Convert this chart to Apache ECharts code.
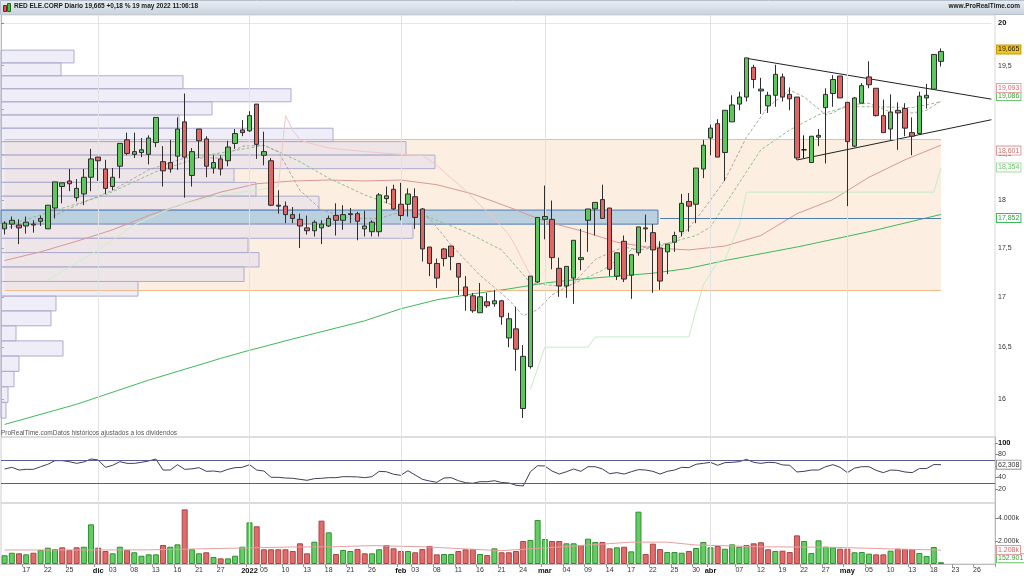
<!DOCTYPE html>
<html lang="es">
<head>
<meta charset="UTF-8">
<title>RED ELE.CORP Diario</title>
<script src="https://cdn.jsdelivr.net/npm/echarts@6/dist/echarts.min.js"></script>
<style>
    html,body{margin:0;padding:0;background:#fff;}
    #main{width:1024px;height:576px;}
</style>
</head>
<body>
<div id="main"></div>
<script>
    // sesiones que no vienen en el histórico
    var HOLIDAYS = ['2021-12-24', '2021-12-31', '2022-04-15', '2022-04-18'];
    var MONTH_NAMES = {'2021-12-01': 'dic', '2022-01-03': '2022', '2022-02-01': 'feb', '2022-03-01': 'mar', '2022-04-01': 'abr', '2022-05-02': 'may'};
    var LABEL_DAYS = ['2021-11-17', '2021-11-22', '2021-11-25', '2021-12-01', '2021-12-03', '2021-12-08', '2021-12-13', '2021-12-16',
        '2021-12-21', '2021-12-27', '2022-01-03', '2022-01-05', '2022-01-10', '2022-01-13', '2022-01-18', '2022-01-21', '2022-01-26',
        '2022-02-01', '2022-02-03', '2022-02-08', '2022-02-11', '2022-02-16', '2022-02-21', '2022-02-24', '2022-03-01', '2022-03-04',
        '2022-03-09', '2022-03-14', '2022-03-17', '2022-03-22', '2022-03-25', '2022-03-30', '2022-04-01', '2022-04-07', '2022-04-12',
        '2022-04-19', '2022-04-22', '2022-04-27', '2022-05-02', '2022-05-05', '2022-05-10', '2022-05-13', '2022-05-18', '2022-05-23', '2022-05-26'];

    // OHLC diario: [apertura, cierre, mínimo, máximo]
    var candles = [
        [17.70,17.76,17.64,17.78],[17.75,17.79,17.70,17.83],[17.74,17.71,17.54,17.80],[17.73,17.77,17.65,17.83],[17.75,17.74,17.66,17.79],
        [17.78,17.81,17.73,17.84],[17.70,17.95,17.70,17.95],[17.92,18.20,17.81,18.20],[18.15,18.19,17.97,18.19],[18.21,18.18,18.10,18.34],
        [18.03,18.13,17.99,18.23],[18.07,18.25,17.95,18.34],[18.25,18.45,18.10,18.56],[18.47,18.43,18.21,18.47],[18.34,18.13,18.07,18.44],
        [18.15,18.25,18.11,18.35],[18.37,18.62,18.24,18.62],[18.66,18.51,18.49,18.74],[18.50,18.53,18.46,18.74],[18.52,18.55,18.47,18.68],
        [18.50,18.68,18.39,18.71],[18.63,18.91,18.58,18.91],[18.42,18.32,18.15,18.59],[18.41,18.34,18.30,18.66],[18.48,18.78,18.33,18.91],
        [18.86,18.47,18.03,19.18],[18.27,18.53,18.15,18.57],[18.78,18.65,18.46,18.78],[18.67,18.37,18.25,18.70],[18.35,18.41,18.29,18.49],
        [18.45,18.34,18.27,18.49],[18.43,18.58,18.37,18.65],[18.62,18.73,18.56,18.78],[18.77,18.74,18.70,18.88],[18.76,18.93,18.75,18.98],
        [19.06,18.61,18.45,19.06],[18.49,18.53,18.38,18.75],[18.43,17.95,17.94,18.46],[17.95,17.94,17.86,18.11],[17.94,17.85,17.76,17.99],
        [17.85,17.81,17.76,17.93],[17.80,17.73,17.50,17.86],[17.71,17.68,17.64,17.84],[17.68,17.77,17.62,17.79],[17.71,17.75,17.54,17.79],
        [17.73,17.81,17.72,17.84],[17.84,17.79,17.63,17.97],[17.79,17.85,17.69,17.95],[17.86,17.85,17.76,17.92],[17.86,17.78,17.58,17.88],
        [17.70,17.73,17.62,17.89],[17.67,17.77,17.62,17.79],[17.67,18.06,17.62,18.08],[18.02,18.05,17.97,18.15],[18.12,17.91,17.90,18.17],
        [17.96,17.84,17.79,18.19],[17.96,18.07,17.83,18.13],[18.04,17.82,17.70,18.13],[17.91,17.49,17.36,17.92],[17.51,17.34,17.21,17.51],
        [17.34,17.19,17.09,17.39],[17.49,17.39,17.31,17.50],[17.52,17.41,17.27,17.52],[17.34,17.20,17.02,17.34],[17.10,17.01,16.86,17.21],
        [17.01,16.86,16.84,17.04],[16.84,17.00,16.84,17.14],[16.95,16.91,16.89,17.04],[16.93,16.96,16.90,17.07],[16.96,16.80,16.72,16.97],
        [16.59,16.78,16.50,16.84],[16.68,16.48,16.27,16.90],[15.91,16.41,15.82,16.52],[16.31,17.21,16.29,17.21],[17.15,17.82,17.14,17.82],
        [17.80,17.83,17.59,18.16],[17.80,17.40,17.28,18.00],[17.29,17.11,17.00,17.40],[17.11,17.31,16.99,17.31],[17.19,17.58,16.93,17.58],
        [17.38,17.40,17.27,17.70],[17.79,17.91,17.46,17.91],[17.91,17.98,17.63,17.98],[18.01,17.81,17.81,18.17],[17.92,17.28,17.21,17.92],
        [17.21,17.45,17.17,17.45],[17.57,17.18,17.15,17.63],[17.22,17.43,16.98,17.43],[17.45,17.72,17.42,17.72],[17.70,17.71,17.56,17.85],
        [17.66,17.48,17.04,17.75],[17.50,17.16,17.07,17.57],[17.46,17.54,17.23,17.54],[17.56,17.63,17.46,17.67],[17.67,17.97,17.62,18.07],
        [17.99,17.94,17.67,18.08],[17.96,18.35,17.76,18.35],[18.34,18.60,18.24,18.66],[18.68,18.79,18.49,18.83],[18.84,18.47,18.47,18.89],
        [18.52,18.99,18.21,18.99],[18.86,19.05,18.86,19.16],[19.06,19.14,18.99,19.20],[19.14,19.59,19.09,19.59],[19.48,19.34,19.24,19.51],
        [19.21,19.23,18.95,19.36],[19.04,19.16,18.96,19.20],[19.16,19.40,19.03,19.51],[19.37,19.14,19.09,19.41],[19.17,19.12,18.99,19.25],
        [19.14,18.46,18.44,19.14],[18.55,18.55,18.46,18.71],[18.41,18.70,18.41,18.70],[18.69,18.71,18.59,18.78],[19.02,19.17,18.40,19.24],
        [19.18,19.34,19.03,19.39],[19.38,19.13,19.13,19.38],[19.08,18.64,17.94,19.08],[18.59,19.13,18.58,19.14],[19.07,19.27,19.07,19.30],
        [19.37,19.28,19.24,19.55],[19.24,18.93,18.92,19.24],[18.93,18.74,18.74,19.11],[18.78,18.97,18.66,19.17],[18.99,18.96,18.55,19.08],
        [19.01,18.79,18.70,19.07],[18.74,18.70,18.49,18.91],[18.73,19.15,18.73,19.20],[19.13,19.16,19.01,19.29],[19.23,19.63,19.23,19.63],
        [19.55,19.665,19.49,19.70]
    ];

    // volumen en miles
    var volumes = [
        760,980,930,840,980,1220,1420,1300,1450,1220,
        1450,1500,3450,1420,1130,930,1500,1220,1020,720,
        840,840,1650,1500,1710,4750,1280,930,1020,610,
        490,490,720,1500,3620,3280,1280,1280,1280,1280,
        1130,1800,930,1940,3770,2750,870,1220,1130,1300,
        930,930,1280,1650,1360,1130,1130,1020,1300,1570,
        840,870,870,1130,1280,1300,870,780,1360,1020,
        1020,1130,2000,2090,3830,2170,2000,2000,1800,1800,
        1650,2200,1910,1910,1360,1450,1500,1100,4550,870,
        1770,1300,1040,1040,980,1130,1390,1910,1450,1570,
        1330,1710,1500,1650,1800,1890,1280,1130,1160,1040,
        2490,2000,960,2060,1500,1450,1330,1330,1020,1040,
        900,840,840,1160,1330,1300,1300,960,700,1480,
        153
    ];

    var rsi = [
        54.8,57.7,53,54.2,54.2,58.8,63,69.3,69.3,67.5,
        64.6,67,72.2,70.4,57.7,61.2,67.5,64.6,64.6,66.4,
        68.7,72.2,53,53,62.3,54.2,55,57.1,50.7,51.3,
        49.6,54.2,57.1,57.7,62.3,53,51.3,40.3,40.3,39.1,
        38.6,36.8,35.1,38,38.6,39.7,39.7,41.4,41.4,41,
        39.7,41.4,50.7,50,45.6,43.8,51.8,44.3,36.8,33.9,
        31.6,39.1,39.7,34.4,31,29.9,32.7,32.7,34.4,31.3,
        30.5,26.5,25.2,50.1,60.5,60,51.3,46,50,54.8,
        50.7,58.8,58.8,54.8,46.6,48.5,46,50,53.7,53,
        50.7,46,50.7,53,57.7,57.1,63,64.6,66.4,61.2,
        65.8,66.4,67.5,71.6,66.4,64.6,66.4,65.8,61.9,61.2,
        49.6,50.7,53,53,58.8,62.3,57.7,48.5,56.2,58.8,
        58.8,52.4,48.4,53,52.4,49.6,48.4,55.5,55.5,62.5,
        62.308
    ];

    // medias leídas por tramos: [sesión, precio]
    var ma50 = [[0,17.37],[5,17.46],[10,17.57],[15,17.69],[20,17.84],[25,17.97],[30,18.09],[35,18.18],[40,18.21],[45,18.22],
        [50,18.21],[55,18.22],[60,18.17],[65,18.07],[70,17.93],[75,17.78],[80,17.68],[85,17.56],[90,17.50],[95,17.48],
        [100,17.52],[105,17.63],[110,17.86],[115,18.01],[120,18.25],[125,18.44],[130,18.601]];
    var ma200 = [[0,15.76],[10,15.95],[20,16.18],[30,16.39],[33,16.45],[40,16.58],[50,16.76],[55,16.88],[60,16.97],[65,17.03],
        [70,17.08],[75,17.14],[80,17.18],[90,17.24],[95,17.29],[100,17.37],[110,17.51],[120,17.67],[130,17.852]];
    var ma20 = [[0,17.73],[6,17.87],[14,18.06],[21,18.31],[28,18.49],[34,18.57],[36,18.60],[41,18.42],[45,18.24],[50,18.06],
        [55,17.92],[58,17.85],[64,17.67],[69,17.48],[73,17.14],[78,17.10],[83,17.27],[87,17.48],[92,17.55],[96,17.63],
        [98,17.72],[102,18.19],[105,18.55],[109,18.77],[113,18.94],[117,19.03],[121,19.03],[126,19.02],[130,19.086]];
    var ma10 = [[0,17.71],[5,17.77],[10,17.95],[15,18.11],[20,18.33],[25,18.46],[30,18.46],[33,18.59],[36,18.60],[38,18.53],
        [41,18.11],[44,17.90],[48,17.81],[52,17.81],[56,17.90],[59,17.81],[62,17.53],[66,17.22],[70,16.97],[72,16.81],
        [74,16.87],[76,17.02],[79,17.14],[82,17.38],[84,17.45],[86,17.51],[88,17.48],[90,17.50],[93,17.56],[95,17.71],
        [97,17.90],[100,18.22],[103,18.69],[106,19.03],[109,19.22],[111,19.14],[114,18.94],[115,18.96],[117,19.05],[120,19.07],
        [123,18.97],[126,18.96],[128,18.99],[130,19.093]];
    var stopLong1 = [[6,17.17],[13,17.48],[18,17.74],[24,17.95],[30,18.06],[35,18.11],[38,18.15]];
    var stopShort = [[38,18.15],[39,18.93],[40,18.77],[41,18.66],[42,18.63],[45,18.57],[50,18.53],[55,18.50],[58,18.49],[60,18.38],
        [62,18.24],[64,18.11],[66,17.95],[68,17.81],[70,17.64],[71,17.51],[72,17.36],[73,17.22]];
    var stopLong2 = [[73,16.09],[75,16.50],[81,16.50],[82,16.60],[95,16.60],[96,16.87],[97,17.12],[99,17.36],[100,17.38],
        [102,17.74],[103,18.09],[129,18.09],[130,18.354]];
    var volMa = [[0,1220],[10,1220],[20,1230],[30,1350],[35,1420],[40,1480],[46,1500],[51,1600],[58,1500],[65,1280],
        [69,1160],[75,1400],[83,1730],[87,1900],[92,1900],[96,1650],[105,1500],[115,1450],[124,1300],[130,1208]];

    // triángulo
    var triUpper = [[103,19.585],[137,19.116]];
    var triLower = [[110,18.438],[137,18.884]];

    // perfil de volumen (de arriba abajo), área de valor y POC
    var PROFILE_TOP = 19.68, PROFILE_STEP = 0.1485;
    var profileVol = [73,60,182,290,211,178,332,405,434,233,255,318,657,412,247,258,243,137,55,50,15,62,18,13,7,5];
    var POC_BIN = 12, POC_PRICE = 17.81, POC_FROM = 91;
    var VALUE_AREA = [18.662, 17.069];

    var PRICE_TICKS = [16, 16.5, 17, 17.5, 18, 18.5, 19, 19.5, 20];
    var PRICE_LABELS = [16, 16.5, 17, 17.5, 18, 18.5, 19.5, 20];
    var LAST = {price: 19.665, ma10: 19.093, ma20: 19.086, ma50: 18.601, stop: 18.354, ma200: 17.852, rsi: 62.308, volMa: 1208, vol: 152901};

    var cats = [];
    (function () {
        var d = new Date(Date.UTC(2021, 10, 12)), end = Date.UTC(2022, 4, 30);
        while (d.getTime() <= end) {
            var wd = d.getUTCDay(), s = d.toISOString().slice(0, 10);
            if (wd !== 0 && wd !== 6 && HOLIDAYS.indexOf(s) < 0) cats.push(s);
            d.setUTCDate(d.getUTCDate() + 1);
        }
    })();
    var monthStarts = Object.keys(MONTH_NAMES);

    var L = Math.log;
    function pairs(list) { return list.map(function (p) { return [cats[p[0]], L(p[1])]; }); }
    function comma(v, d) { return v.toFixed(d).replace('.', ','); }
    function priceText(v) { var p = Math.round(Math.exp(v) * 100) / 100; return String(p).replace('.', ','); }
    // caja con el último valor sobre el eje derecho
    function boxItem(yVal, text, color, border, bg, offset) {
        return {
            yAxis: yVal, lineStyle: {color: 'rgba(0,0,0,0)', width: 0},
            label: {show: true, position: 'end', distance: 2, formatter: text, fontSize: 7, fontFamily: 'Arial',
                color: color, backgroundColor: bg || '#fff', borderColor: border, borderWidth: 1, padding: [1, 1, 0, 1],
                offset: offset || [0, 0]}
        };
    }
    function boxLine(item) {
        return {silent: true, symbol: ['none', 'none'], data: [item]};
    }
    function monthItems() { return monthStarts.map(function (d) { return {xAxis: d}; }); }

    var closes = candles.map(function (c) { return c[1]; });
    var volData = volumes.map(function (v, i) {
        var up = i === 0 || closes[i] >= closes[i - 1];
        return {value: v, itemStyle: {color: up ? '#63cd63' : '#e36a6a', borderColor: up ? '#2f8f2f' : '#a84646', borderWidth: 1}};
    });

    var catAxis = function (grid, showLabels) {
        return {
            type: 'category', gridIndex: grid, data: cats, boundaryGap: true,
            axisLine: {show: showLabels, lineStyle: {color: '#bdbdbd'}},
            axisTick: {show: showLabels, length: 3, lineStyle: {color: '#999'},
                interval: function (i, v) { return LABEL_DAYS.indexOf(v) >= 0; }},
            splitLine: {show: false},
            axisLabel: {
                show: showLabels, fontSize: 7, fontFamily: 'Arial', color: '#333', margin: 3,
                interval: function (i, v) { return LABEL_DAYS.indexOf(v) >= 0; },
                formatter: function (v) { return MONTH_NAMES[v] ? '{b|' + MONTH_NAMES[v] + '}' : v.slice(8, 10); },
                rich: {b: {fontWeight: 'bold', fontSize: 7.5, fontFamily: 'Arial', color: '#111'}}
            }
        };
    };

    var chart = echarts.init(document.getElementById('main'));
    var option = {
        animation: false,
        backgroundColor: '#fff',
        title: [
            {text: 'RED ELE.CORP Diario 19,665 +0,18 % 19 may 2022 11:06:18', left: 14, top: 3, padding: 0,
                textStyle: {fontSize: 6.5, fontWeight: 'bold', fontFamily: 'Arial', color: '#1c1c1c'}},
            {text: 'www.ProRealTime.com', right: 4, top: 3, padding: 0,
                textStyle: {fontSize: 6.5, fontWeight: 'bold', fontFamily: 'Arial', color: '#1c1c1c'}},
            {text: 'ProRealTime.comDatos históricos ajustados a los dividendos', left: 1, top: 430, padding: 0,
                textStyle: {fontSize: 6.5, fontWeight: 'normal', fontFamily: 'Arial', color: '#555'}}
        ],
        graphic: [
            {type: 'rect', left: 0, top: 0, z: -1, shape: {width: 1024, height: 14},
                style: {fill: new echarts.graphic.LinearGradient(0, 0, 0, 1, [{offset: 0, color: '#e9eef4'}, {offset: 1, color: '#c8d3de'}]),
                    stroke: '#b4bfcb'}},
            {type: 'rect', left: 3, top: 5, shape: {width: 3, height: 6}, style: {fill: '#e05050', stroke: '#7a2020'}},
            {type: 'rect', left: 7, top: 3, shape: {width: 3, height: 8}, style: {fill: '#40c040', stroke: '#1d6a1d'}}
        ],
        grid: [
            {left: 1, right: 29, top: 15, height: 422, show: true, borderColor: '#d6d6d6', borderWidth: 1},
            {left: 1, right: 29, top: 437, height: 66, show: true, borderColor: '#cfcfcf', borderWidth: 1},
            {left: 1, right: 29, top: 503, height: 61, show: true, borderColor: '#cfcfcf', borderWidth: 1}
        ],
        xAxis: [
            catAxis(0, false), catAxis(1, false), catAxis(2, true),
            {type: 'value', gridIndex: 0, min: 0, max: 994, show: false}
        ],
        yAxis: [
            {type: 'value', gridIndex: 0, position: 'right', min: L(15.643), max: L(20.095),
                splitLine: {show: false},
                axisLine: {show: true, lineStyle: {color: '#b9b9b9'}},
                axisTick: {show: true, length: 3, lineStyle: {color: '#888'}, customValues: PRICE_TICKS.map(L)},
                axisLabel: {fontSize: 7, fontFamily: 'Arial', color: '#333', margin: 3,
                    customValues: PRICE_LABELS.map(L),
                    formatter: function (v) { var s = priceText(v); return s === '20' ? '{b|20}' : s; },
                    rich: {b: {fontWeight: 'bold', fontSize: 7.5, fontFamily: 'Arial', color: '#111'}}}},
            {type: 'value', gridIndex: 1, position: 'right', min: -4.35, max: 110.43,
                splitLine: {show: false},
                axisLine: {show: true, lineStyle: {color: '#b9b9b9'}},
                axisTick: {show: true, length: 3, lineStyle: {color: '#888'}, customValues: [20, 40, 60, 80, 100]},
                axisLabel: {fontSize: 7, fontFamily: 'Arial', color: '#333', margin: 3, customValues: [20, 40, 80, 100],
                    formatter: function (v) { return v === 100 ? '{b|100}' : v; },
                    rich: {b: {fontWeight: 'bold', fontSize: 7.5, fontFamily: 'Arial', color: '#111'}}}},
            {type: 'value', gridIndex: 2, position: 'right', min: 0, max: 5304,
                splitLine: {show: false},
                axisLine: {show: true, lineStyle: {color: '#b9b9b9'}},
                axisTick: {show: true, length: 3, lineStyle: {color: '#888'}, customValues: [2000, 4000]},
                axisLabel: {fontSize: 7, fontFamily: 'Arial', color: '#333', margin: 3, customValues: [2000, 4000],
                    formatter: function (v) { return comma(v / 1000, 3).replace(',', '.') + 'k'; }}}
        ],
        series: [
            {   // área de valor, línea POC
                name: 'va', type: 'line', xAxisIndex: 0, yAxisIndex: 0, z: 0, silent: true,
                data: [[cats[130], L(POC_PRICE)]], symbol: 'none', lineStyle: {opacity: 0},
                markArea: {silent: true, itemStyle: {color: '#fcefe2'},
                    data: [[{xAxis: cats[0], yAxis: L(VALUE_AREA[0])}, {xAxis: cats[130], yAxis: L(VALUE_AREA[1])}]]},
                markLine: {silent: true, symbol: ['none', 'none'], label: {show: false},
                    lineStyle: {color: '#f2bd8e', width: 1, type: 'solid'},
                    data: [
                        [{coord: [cats[0], L(VALUE_AREA[0])]}, {coord: [cats[130], L(VALUE_AREA[0])]}],
                        [{coord: [cats[0], L(VALUE_AREA[1])]}, {coord: [cats[130], L(VALUE_AREA[1])]}],
                        [{coord: [cats[POC_FROM], L(POC_PRICE)], lineStyle: {color: '#4f7bb5', width: 1}}, {coord: [cats[130], L(POC_PRICE)]}],
                        [{coord: [cats[0], L(20)], lineStyle: {color: '#e6e6e6'}}, {coord: [cats[137], L(20)]}]
                    ]}
            },
            {
                name: 'perfil', type: 'custom', xAxisIndex: 3, yAxisIndex: 0, z: 1, silent: true,
                data: profileVol.map(function (v, i) {
                    return [v, L(PROFILE_TOP - i * PROFILE_STEP), L(PROFILE_TOP - (i + 1) * PROFILE_STEP), i === POC_BIN ? 1 : 0];
                }),
                encode: {x: 0, y: [1, 2]},
                renderItem: function (params, api) {
                    var a = api.coord([0, api.value(1)]);
                    var b = api.coord([api.value(0), api.value(2)]);
                    var poc = api.value(3) === 1;
                    return {type: 'rect', shape: {x: a[0], y: a[1], width: b[0] - a[0], height: b[1] - a[1]},
                        style: {fill: poc ? 'rgba(150,190,220,0.65)' : 'rgba(220,218,240,0.45)',
                            stroke: poc ? '#4f7bb5' : '#aeaccc', lineWidth: 1}};
                }
            },
            {name: 'MA200', type: 'line', data: pairs(ma200), symbol: 'none', z: 2, silent: true,
                lineStyle: {color: '#3dba5a', width: 1},
                markLine: boxLine(boxItem(L(LAST.ma200), comma(LAST.ma200, 3), '#2f9a48', '#3dba5a'))},
            {name: 'MA50', type: 'line', data: pairs(ma50), symbol: 'none', z: 2, silent: true,
                lineStyle: {color: '#dc9696', width: 1},
                markLine: boxLine(boxItem(L(LAST.ma50), comma(LAST.ma50, 3), '#d06a6a', '#e09a9a'))},
            {name: 'MA20', type: 'line', data: pairs(ma20), symbol: 'none', z: 2, silent: true,
                lineStyle: {color: '#8fbf8f', width: 1, type: [3, 2]},
                markLine: boxLine(boxItem(L(LAST.ma20), comma(LAST.ma20, 3), '#3aa03a', '#6cc46c', '#fff', [0, -4]))},
            {name: 'MA10', type: 'line', data: pairs(ma10), symbol: 'none', z: 2, silent: true,
                lineStyle: {color: '#b0a2a2', width: 1, type: [3, 2]},
                markLine: boxLine(boxItem(L(LAST.ma10), comma(LAST.ma10, 3), '#d07070', '#e3a3a3', '#fff', [0, -12]))},
            {name: 'stopShort', type: 'line', data: pairs(stopShort), symbol: 'none', z: 2, silent: true,
                lineStyle: {color: '#f4c6c6', width: 1}},
            {name: 'stopLong1', type: 'line', data: pairs(stopLong1), symbol: 'none', z: 2, silent: true,
                lineStyle: {color: '#cdeecd', width: 1}},
            {name: 'stopLong2', type: 'line', data: pairs(stopLong2), symbol: 'none', z: 2, silent: true,
                lineStyle: {color: '#c6ecc6', width: 1},
                markLine: boxLine(boxItem(L(LAST.stop), comma(LAST.stop, 3), '#6cbf6c', '#a6dca6'))},
            {name: 'triSup', type: 'line', data: pairs(triUpper), symbol: 'none', z: 4, silent: true,
                lineStyle: {color: '#222', width: 1}},
            {name: 'triInf', type: 'line', data: pairs(triLower), symbol: 'none', z: 4, silent: true,
                lineStyle: {color: '#222', width: 1}},
            {
                name: 'RED', type: 'candlestick', xAxisIndex: 0, yAxisIndex: 0, z: 5, barWidth: 5, silent: true,
                data: candles.map(function (c) { return c.map(L); }),
                itemStyle: {color: '#5cc75c', color0: '#e06565', borderColor: '#2e2e2e', borderColor0: '#2e2e2e',
                    borderColorDoji: '#111', borderWidth: 1},
                markLine: {silent: true, symbol: ['none', 'none'], label: {show: false},
                    lineStyle: {color: '#e2e2e2', width: 1, type: 'solid'},
                    data: monthItems().concat([
                        boxItem(L(LAST.price), comma(LAST.price, 3), '#222', '#c99a00', '#f4c51c')
                    ])}
            },
            {
                name: 'RSI', type: 'line', xAxisIndex: 1, yAxisIndex: 1, data: rsi, symbol: 'none', silent: true,
                lineStyle: {color: '#3e3e5c', width: 1},
                markLine: {silent: true, symbol: ['none', 'none'], label: {show: false},
                    lineStyle: {color: '#e2e2e2', width: 1, type: 'solid'},
                    data: monthItems().concat([
                        {yAxis: 70, lineStyle: {color: '#5b5b90'}},
                        {yAxis: 30, lineStyle: {color: '#5b5b90'}},
                        boxItem(LAST.rsi, comma(LAST.rsi, 3), '#333', '#999')
                    ])}
            },
            {
                name: 'Volumen', type: 'bar', xAxisIndex: 2, yAxisIndex: 2, data: volData, barWidth: 6, silent: true,
                markLine: {silent: true, symbol: ['none', 'none'], label: {show: false},
                    lineStyle: {color: '#e2e2e2', width: 1, type: 'solid'},
                    data: monthItems().concat([
                        boxItem(LAST.vol / 1000, '152.901', '#3aa03a', '#6cc46c', '#fff', [0, -4])
                    ])}
            },
            {
                name: 'VolMA', type: 'line', xAxisIndex: 2, yAxisIndex: 2,
                data: volMa.map(function (p) { return [cats[p[0]], p[1]]; }), symbol: 'none', silent: true, z: 3,
                lineStyle: {color: '#e6a0a0', width: 1},
                markLine: boxLine(boxItem(LAST.volMa, '1.208k', '#d06a6a', '#e09a9a'))
            }
        ]
    };
    chart.setOption(option);
</script>
</body>
</html>
